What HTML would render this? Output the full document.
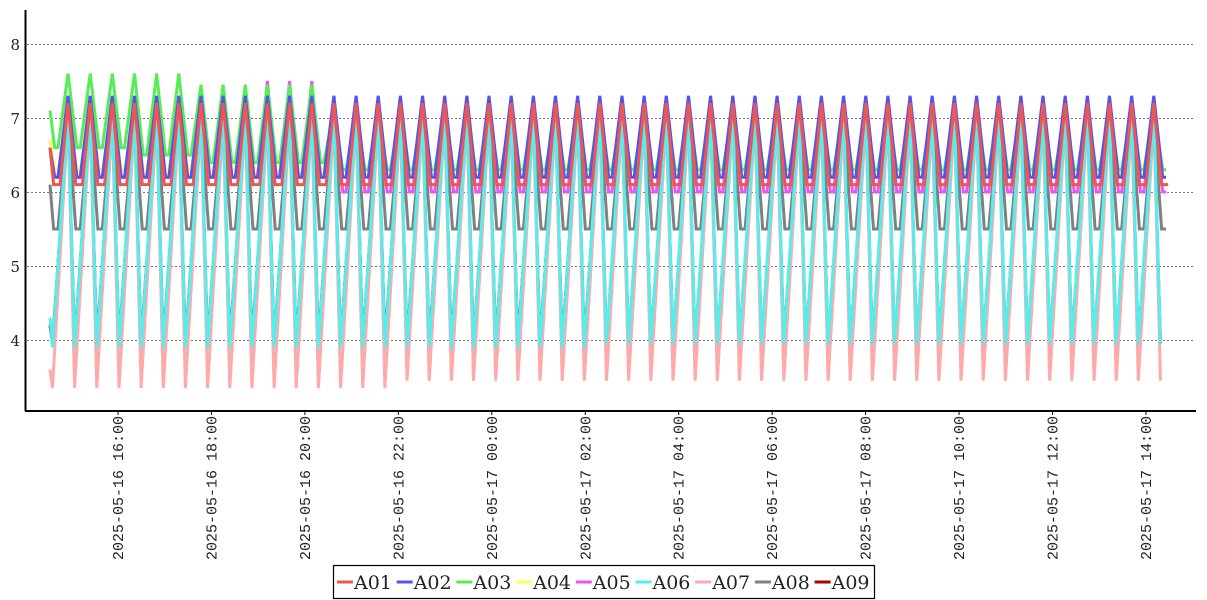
<!DOCTYPE html>
<html><head><meta charset="utf-8"><style>
body{margin:0;background:#fff;width:1207px;height:600px;overflow:hidden}
svg{display:block}
text{font-family:"DejaVu Serif","Liberation Serif",serif;fill:#222}
</style></head><body>
<svg id="s" width="1207" height="600" xmlns="http://www.w3.org/2000/svg">
<g id="grid" stroke="#777" stroke-width="1" stroke-dasharray="2,2">
<line x1="27" x2="1195" y1="44.5" y2="44.5"/><line x1="27" x2="1195" y1="118.5" y2="118.5"/>
<line x1="27" x2="1195" y1="192.5" y2="192.5"/><line x1="27" x2="1195" y1="266.5" y2="266.5"/>
<line x1="27" x2="1195" y1="340.5" y2="340.5"/>
</g>
<g font-size="15" text-anchor="end">
<text x="20" y="50">8</text><text x="20" y="124">7</text><text x="20" y="198">6</text><text x="20" y="272">5</text><text x="20" y="346">4</text>
</g>
<g id="series" fill="none" stroke-width="3" stroke-linejoin="miter"></g>
<line x1="25.5" y1="10" x2="25.5" y2="411" stroke="#000" stroke-width="2"/>
<line x1="25" y1="411" x2="1196" y2="411" stroke="#000" stroke-width="2"/>
<g id="xt"></g>
<rect x="333.5" y="565.5" width="541" height="33" fill="#fff" stroke="#000" stroke-width="1.2"/>
<g id="leg" font-size="19"></g>
</svg>
<script>
var NS="http://www.w3.org/2000/svg";
function Y(v){return 44+(8-v)*74;}
var P=22.16,X0=68,XS=50,XE=1172;
// shape: list of [phase,value-fn]
function build(shape){
  var pts=[];
  for(var k=-1;k<52;k++){
    var base=X0+k*P;
    shape.forEach(function(s){
      var x=base+s[0]*P;
      if(x>=XS&&x<=XE) pts.push([x,s[1](x)]);
    });
  }
  return pts;
}
function c(v){return function(){return v;};}
var series=[
 ["#aa0000",[[0,c(7.0)],[0.3,c(3.95)]]],
 ["#ffaaaa",[[0,c(7.0)],[0.3,function(x){return x<400?3.35:3.45;}]]],
 ["#808080",[[0,c(7.0)],[0.35,c(5.5)],[0.55,c(5.5)]]],
 ["#55eeee",[[0,c(7.1)],[0.3,function(x){return x<600?3.9:3.95;}]]],
 ["#ee55ee",[[0,function(x){return x<330&&x>250?7.5:7.2;}],[0.4,function(x){return x<330?6.2:6.0;}],[0.55,function(x){return x<330?6.2:6.0;}]]],
 ["#ffff55",[[0,c(7.1)],[0.4,c(6.3)],[0.55,c(6.3)]]],
 ["#55ee55",[[0,function(x){return x<200?7.6:(x<330?7.45:7.1);}],[0.4,function(x){return x<130?6.6:(x<200?6.5:(x<330?6.4:6.3));}],[0.55,function(x){return x<130?6.6:(x<200?6.5:(x<330?6.4:6.3));}]]],
 ["#5555ee",[[0,c(7.3)],[0.4,c(6.2)],[0.55,c(6.2)]]],
 ["#ee5555",[[0,c(7.2)],[0.35,c(6.1)],[0.65,c(6.1)]]]
];
var starts={"#ee5555":6.6,"#55ee55":7.1,"#808080":6.1,"#55eeee":4.3,"#ffaaaa":3.6,"#5555ee":6.6,"#ffff55":6.7,"#ee55ee":6.6,"#aa0000":4.2};
var g=document.getElementById("series");
series.forEach(function(s){
  var pts=build(s[1]);
  pts.unshift([XS,starts[s[0]]]);
  var str=pts.map(function(p){return p[0].toFixed(1)+","+Y(p[1]).toFixed(1);}).join(" ");
  var p=document.createElementNS(NS,"polyline");
  p.setAttribute("points",str);p.setAttribute("stroke",s[0]);
  g.appendChild(p);
});
var xt=document.getElementById("xt");
var labs=["2025-05-16 16:00","2025-05-16 18:00","2025-05-16 20:00","2025-05-16 22:00","2025-05-17 00:00","2025-05-17 02:00","2025-05-17 04:00","2025-05-17 06:00","2025-05-17 08:00","2025-05-17 10:00","2025-05-17 12:00","2025-05-17 14:00"];
labs.forEach(function(l,i){
  var x=118+i*93.45;
  var ln=document.createElementNS(NS,"line");
  ln.setAttribute("x1",x);ln.setAttribute("x2",x);ln.setAttribute("y1",411);ln.setAttribute("y2",415);ln.setAttribute("stroke","#000");
  xt.appendChild(ln);
  var t=document.createElementNS(NS,"text");
  t.setAttribute("transform","translate("+(x+5)+",416) rotate(-90)");
  t.setAttribute("text-anchor","end");t.setAttribute("font-size","15");
  t.setAttribute("style","font-family:'Liberation Mono',monospace");
  t.textContent=l;xt.appendChild(t);
});
var cols=["#ee5555","#5555ee","#55ee55","#ffff55","#ee55ee","#55eeee","#ffaaaa","#808080","#aa0000"];
var leg=document.getElementById("leg");
cols.forEach(function(c,i){
  var x=337+i*59.7;
  var ln=document.createElementNS(NS,"line");
  ln.setAttribute("x1",x);ln.setAttribute("x2",x+16);ln.setAttribute("y1",582);ln.setAttribute("y2",582);ln.setAttribute("stroke",c);ln.setAttribute("stroke-width","3");
  leg.appendChild(ln);
  var t=document.createElementNS(NS,"text");
  t.setAttribute("x",x+17);t.setAttribute("y",589);t.textContent="A0"+(i+1);
  leg.appendChild(t);
});
</script>
</body></html>
